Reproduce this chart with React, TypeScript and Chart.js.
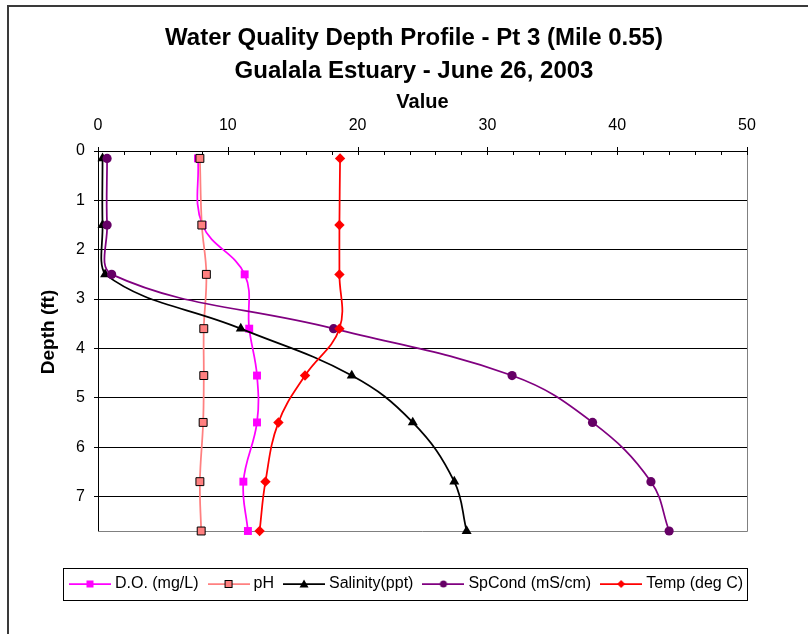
import { useEffect, useRef } from 'react';
import { Chart, registerables } from 'chart.js';

Chart.register(...registerables);

// ---- Data ----
const depths = [0.15, 1.5, 2.5, 3.6, 4.55, 5.5, 6.7, 7.7];
const doValues = [7.7, 8.05, 11.3, 11.65, 12.25, 12.25, 11.2, 11.55];
const phValues = [7.85, 8.0, 8.35, 8.15, 8.15, 8.1, 7.85, 7.95];
const salinityValues = [0.35, 0.35, 0.55, 11.0, 19.55, 24.25, 27.45, 28.4];
const spCondValues = [0.7, 0.7, 1.05, 18.15, 31.9, 38.1, 42.6, 44.0];
const tempValues = [18.65, 18.6, 18.6, 18.6, 15.95, 13.9, 12.9, 12.45];

const seriesNames = ['D.O. (mg/L)', 'pH', 'Salinity(ppt)', 'SpCond (mS/cm)', 'Temp (deg C)'];
const titleLines = ['Water Quality Depth Profile - Pt 3 (Mile 0.55)', 'Gualala Estuary - June 26, 2003'];
const xAxisTitle = 'Value';
const yAxisTitle = 'Depth (ft)';
const xMin = 0;
const xMax = 50;
const xStep = 10;
const xMinorStep = 2;
const yMin = 0;
const yMax = 7.7;
const yStep = 1;

const FONT = '"Liberation Sans", Arial, Helvetica, sans-serif';

type Marker = {
  shape: 'rect' | 'triangle' | 'circle' | 'rectRot';
  fill: string;
  border: string;
  borderWidth: number;
  radius: number;
  line: string;
};

const markers: Marker[] = [
  { shape: 'rect', fill: '#FF00FF', border: '#FF00FF', borderWidth: 0, radius: 5.6, line: '#FF00FF' },
  { shape: 'rect', fill: '#FF8080', border: '#000000', borderWidth: 1, radius: 5.6, line: '#FF8080' },
  { shape: 'triangle', fill: '#000000', border: '#000000', borderWidth: 0, radius: 5.8, line: '#000000' },
  { shape: 'circle', fill: '#660066', border: '#660066', borderWidth: 0, radius: 4.6, line: '#800080' },
  { shape: 'rectRot', fill: '#FF0000', border: '#FF0000', borderWidth: 0, radius: 5.2, line: '#FF0000' },
];

const seriesValues = [doValues, phValues, salinityValues, spCondValues, tempValues];

function makeLegendIcon(m: Marker): HTMLCanvasElement {
  const c = document.createElement('canvas');
  c.width = 42;
  c.height = 14;
  const g = c.getContext('2d')!;
  g.strokeStyle = m.line;
  g.lineWidth = 1.75;
  g.beginPath();
  g.moveTo(0, 7);
  g.lineTo(42, 7);
  g.stroke();
  const cx = 21;
  const cy = 7;
  g.fillStyle = m.fill;
  g.beginPath();
  if (m.shape === 'rect') {
    g.rect(cx - 3.5, cy - 3.5, 7, 7);
  } else if (m.shape === 'triangle') {
    g.moveTo(cx, cy - 4.5);
    g.lineTo(cx + 4.5, cy + 3.5);
    g.lineTo(cx - 4.5, cy + 3.5);
    g.closePath();
  } else if (m.shape === 'circle') {
    g.arc(cx, cy, 3.5, 0, Math.PI * 2);
  } else {
    g.moveTo(cx, cy - 4);
    g.lineTo(cx + 4, cy);
    g.lineTo(cx, cy + 4);
    g.lineTo(cx - 4, cy);
    g.closePath();
  }
  g.fill();
  if (m.borderWidth > 0) {
    g.strokeStyle = m.border;
    g.lineWidth = 1;
    g.strokeRect(cx - 3.5, cy - 3.5, 7, 7);
  }
  return c;
}

const chromePlugin = {
  id: 'chrome',
  afterLayout(chart: any) {
    // Excel-like placement of the title block and legend row
    if (chart.titleBlock) {
      chart.titleBlock.left += 10;
      chart.titleBlock.right += 10;
    }
    if (chart.legend) {
      chart.legend.left += 4;
      chart.legend.right += 4;
    }
  },
  beforeDraw(chart: any) {
    const ctx = chart.ctx;
    ctx.save();
    ctx.fillStyle = '#ffffff';
    ctx.fillRect(0, 0, chart.width, chart.height);
    ctx.fillStyle = '#3a3a3a';
    ctx.fillRect(7, 5, 2, chart.height - 5);
    ctx.fillRect(7, 5, chart.width - 7, 2);
    ctx.restore();
  },
  beforeDatasetsDraw(chart: any) {
    const { ctx, chartArea } = chart;
    const xs = chart.scales.x;
    ctx.save();
    // plot-area border (right and bottom, grey)
    ctx.strokeStyle = '#808080';
    ctx.lineWidth = 1;
    const r = Math.round(chartArea.right) + 0.5;
    const b = Math.round(chartArea.bottom) + 0.5;
    ctx.beginPath();
    ctx.moveTo(r, Math.round(chartArea.top));
    ctx.lineTo(r, b);
    ctx.lineTo(Math.round(chartArea.left), b);
    ctx.stroke();
    // x-axis tick marks (minor inside, major crossing)
    ctx.strokeStyle = '#000000';
    const top = Math.round(chartArea.top);
    for (let v = xMin; v <= xMax + 1e-9; v += xMinorStep) {
      const px = Math.round(xs.getPixelForValue(v)) + 0.5;
      const major = Math.abs(v / xStep - Math.round(v / xStep)) < 1e-9;
      ctx.beginPath();
      ctx.moveTo(px, major ? top - 4 : top);
      ctx.lineTo(px, top + 4);
      ctx.stroke();
    }
    // y-axis title (rotated)
    const ys = chart.scales.y;
    ctx.fillStyle = '#000000';
    ctx.font = 'bold 19px ' + FONT;
    ctx.textAlign = 'center';
    ctx.textBaseline = 'alphabetic';
    ctx.translate(ys.left + 54, (ys.top + ys.bottom) / 2 - 9);
    ctx.rotate(-Math.PI / 2);
    ctx.fillText(yAxisTitle, 0, 0);
    ctx.restore();
  },
  afterDraw(chart: any) {
    const legend = chart.legend;
    if (!legend || !legend.legendHitBoxes || !legend.legendHitBoxes.length) return;
    const hb = legend.legendHitBoxes;
    const first = hb[0];
    const last = hb[hb.length - 1];
    const center = first.top + first.height / 2;
    const ctx = chart.ctx;
    ctx.save();
    ctx.strokeStyle = '#000000';
    ctx.lineWidth = 1;
    const left = Math.round(first.left - 10) + 0.5;
    const right = Math.round(last.left + last.width + 4) + 0.5;
    const t = Math.round(center - 16) + 0.5;
    const bt = Math.round(center + 16) + 0.5;
    ctx.strokeRect(left, t, right - left, bt - t);
    ctx.restore();
  },
};

export default function App() {
  const ref = useRef<HTMLCanvasElement>(null);

  useEffect(() => {
    if (!ref.current) return;
    Chart.defaults.font.family = FONT;
    Chart.defaults.color = '#000000';

    const icons = markers.map(makeLegendIcon);

    const datasets = seriesNames.map((name, i) => {
      const m = markers[i];
      return {
        label: name,
        data: depths.map((d, j) => ({ x: seriesValues[i][j], y: d })),
        showLine: true,
        borderColor: m.line,
        backgroundColor: m.fill,
        borderWidth: 1.75,
        tension: 0.4,
        pointStyle: m.shape,
        pointRadius: m.radius,
        pointHoverRadius: m.radius,
        pointBackgroundColor: m.fill,
        pointBorderColor: m.border,
        pointBorderWidth: m.borderWidth,
        order: seriesNames.length - i,
        clip: false,
      };
    });

    const chart = new Chart(ref.current, {
      type: 'scatter',
      data: { datasets } as any,
      plugins: [chromePlugin],
      options: {
        animation: false,
        responsive: false,
        devicePixelRatio: 1,
        layout: { padding: { left: 0, right: 0, top: 0, bottom: 32 } },
        plugins: {
          title: {
            display: true,
            text: titleLines,
            color: '#000000',
            font: { size: 24, weight: 'bold', lineHeight: 1.375, family: FONT },
            padding: { top: 22, bottom: 0 },
          },
          legend: {
            position: 'bottom',
            labels: {
              usePointStyle: true,
              pointStyleWidth: 34,
              padding: 13,
              color: '#000000',
              font: { size: 16, family: FONT },
              sort: (a: any, b: any) => a.datasetIndex - b.datasetIndex,
              generateLabels: (c: any) => {
                const items = (Chart.defaults.plugins.legend.labels as any).generateLabels(c);
                return items.map((it: any) => ({ ...it, pointStyle: icons[it.datasetIndex] }));
              },
            },
          },
          tooltip: { enabled: false },
        },
        scales: {
          x: {
            type: 'linear',
            position: 'top',
            min: xMin,
            max: xMax,
            ticks: { stepSize: xStep, padding: 16, color: '#000000', font: { size: 16, family: FONT } },
            grid: { display: false, drawTicks: false },
            border: { display: true, color: '#000000', width: 1 },
            title: {
              display: true,
              text: xAxisTitle,
              color: '#000000',
              font: { size: 20, weight: 'bold', family: FONT },
              padding: { top: 2, bottom: 0 },
            },
            afterFit: (s: any) => {
              s.height = 63;
            },
          },
          y: {
            type: 'linear',
            position: 'left',
            reverse: true,
            min: yMin,
            max: yMax,
            ticks: {
              stepSize: yStep,
              includeBounds: false,
              padding: 9,
              color: '#000000',
              font: { size: 16, family: FONT },
            },
            grid: { color: '#000000', tickLength: 4, lineWidth: 1 },
            border: { display: true, color: '#000000', width: 1 },
            title: { display: false },
            afterFit: (s: any) => {
              s.width = 98;
            },
          },
          x2: {
            type: 'linear',
            position: 'bottom',
            min: 0,
            max: 1,
            ticks: { display: false },
            grid: { display: false, drawTicks: false },
            border: { display: false },
            afterFit: (s: any) => {
              s.height = 32;
            },
          },
          y2: {
            type: 'linear',
            position: 'right',
            min: 0,
            max: 1,
            ticks: { display: false },
            grid: { display: false, drawTicks: false },
            border: { display: false },
            afterFit: (s: any) => {
              s.width = 61;
            },
          },
        },
      } as any,
    });
    return () => chart.destroy();
  }, []);

  return (
    <div style={{ position: 'absolute', left: 0, top: 0, width: 808, height: 634 }}>
      <canvas ref={ref} width={808} height={634} style={{ display: 'block', width: 808, height: 634 }} />
    </div>
  );
}
